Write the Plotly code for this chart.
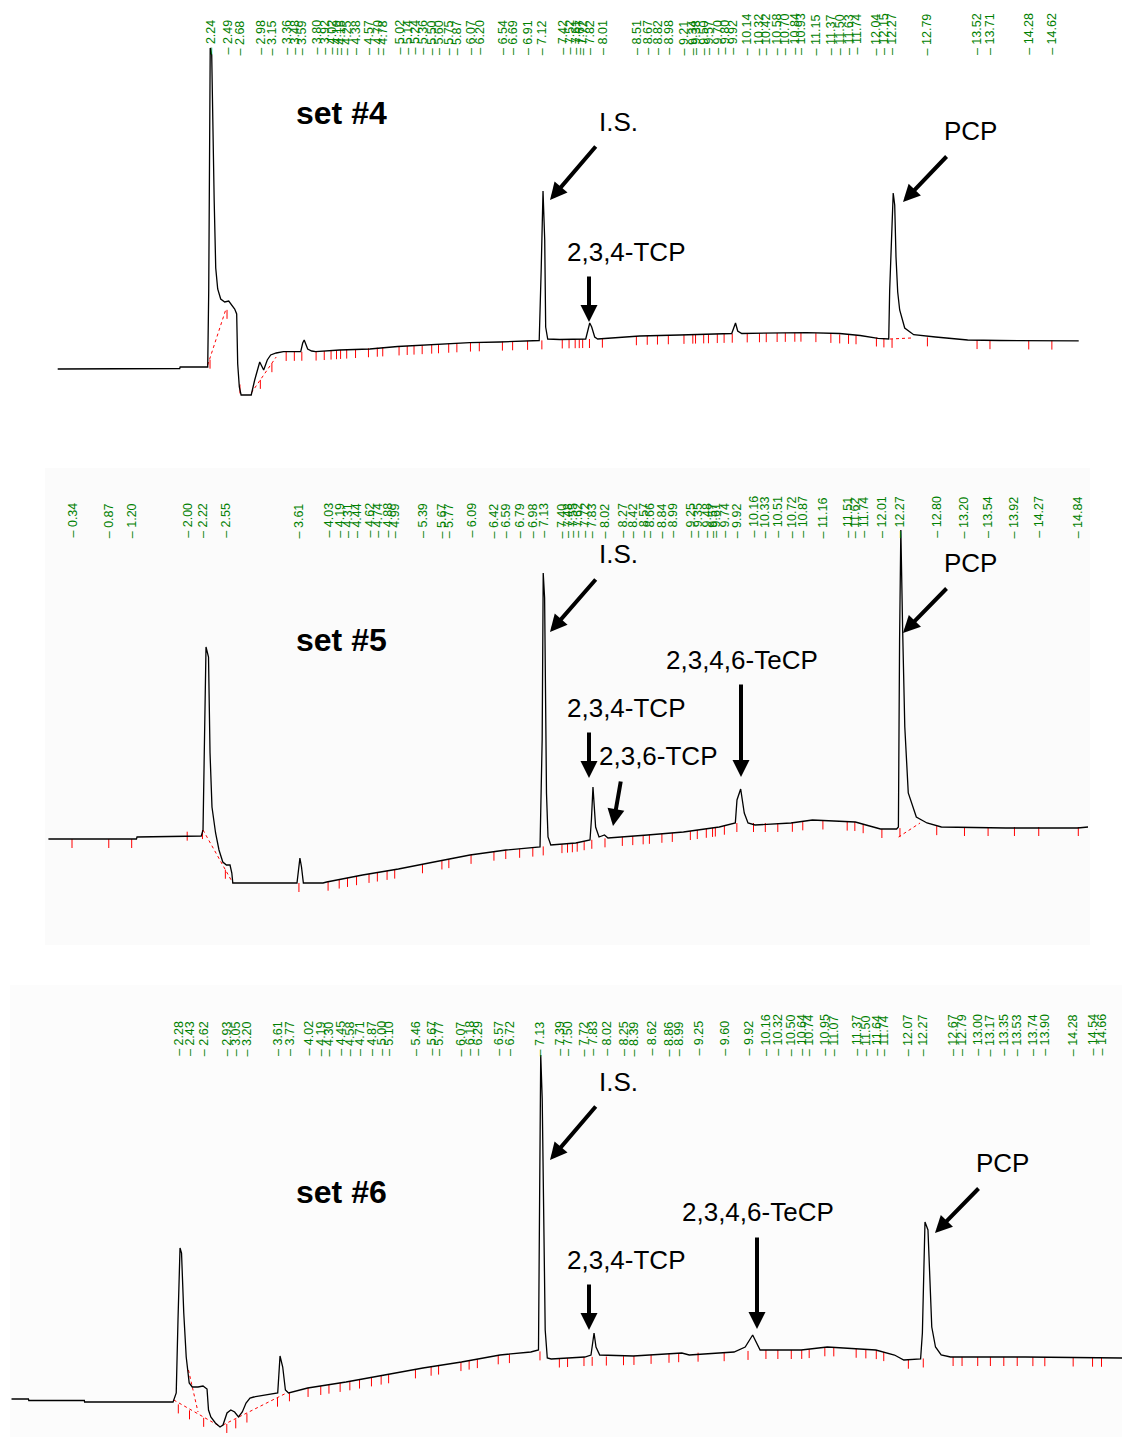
import numpy as np
import plotly.graph_objects as go

# ---------------- DATA (retention time in min, detector response in arbitrary units) -------------
# set #4
p1_trace = [(0.000,0),(0.412,0),(0.419,0.5),(1.794,0.5),(1.801,2),(2.206,2),(2.221,79),(2.228,134),(2.243,321),
            (2.265,314),(2.279,239),(2.301,169),(2.324,101),(2.353,80),(2.397,70),(2.456,67),(2.515,68),(2.559,64),
            (2.603,60),(2.632,55),(2.647,5),(2.671,-18),(2.697,-26),(2.846,-26),(2.897,-11),(2.971,7),(3.029,-1),
            (3.082,9),(3.132,14),(3.213,16),(3.320,17.3),(3.574,17.3),(3.603,26),(3.625,29),(3.647,24),(3.676,20),
            (3.735,18),(3.794,17.4),(4.147,19),(4.588,20),(5.000,22.5),(5.471,24),(6.059,26.4),(6.500,27),(6.956,28),
            (7.081,28.5),(7.110,99),(7.137,178),(7.162,129),(7.176,42),(7.206,30),(7.382,29.5),(7.765,30),(7.794,39),
            (7.824,46),(7.853,42),(7.897,32),(7.941,30),(8.559,33),(9.147,34),(9.735,35),(9.912,35.5),(9.968,46),
            (10.000,38),(10.059,35.5),(10.618,36),(11.010,36.4),(11.500,35.5),(11.801,33.5),(12.065,30.7),(12.221,30),
            (12.235,79),(12.287,176),(12.309,164),(12.328,112),(12.353,77),(12.382,59),(12.456,41),(12.588,34.3),
            (12.909,32),(13.382,29),(13.853,28.5),(15.015,28.2)]
p1_baseline = [(0,0.5),(2.206,2),(2.47,59),(2.60,60),(2.647,5),(2.697,-26),(2.846,-24),(3.213,12),(3.32,17),(3.794,17.4),
               (4.147,19),(5.0,22.5),(6.059,26.4),(7.081,28.5),(7.382,29.5),(7.765,30),(7.941,30),(8.559,33),(9.735,35),
               (10.059,35.5),(11.010,36.4),(11.801,33.5),(12.221,30),(12.588,31),(12.909,32),(13.382,29),(15.015,28.2)]
p1_dash_time = [2.206, 2.47, None, 2.846, 3.213, None, 12.24, 12.55]
p1_dash_signal = [4, 59, None, -24, 12, None, 30, 31]
p1_rt = [2.24,2.49,2.68,2.98,3.15,3.36,3.48,3.59,3.80,3.92,4.02,4.10,4.16,4.25,4.38,4.57,4.70,4.78,5.02,5.14,5.24,5.36,
         5.50,5.60,5.75,5.87,6.07,6.20,6.54,6.69,6.91,7.12,7.42,7.52,7.61,7.67,7.72,7.82,8.01,8.51,8.67,8.82,8.98,9.21,
         9.34,9.38,9.50,9.57,9.70,9.80,9.92,10.14,10.32,10.42,10.58,10.70,10.84,10.93,11.15,11.37,11.50,11.63,11.74,
         12.04,12.15,12.27,12.79,13.52,13.71,14.28,14.62]

# set #5
p2_trace = [(0.000,0),(1.269,0),(1.277,2),(2.203,3),(2.228,9),(2.249,100),(2.271,192),(2.307,182),(2.329,86),(2.357,32),
            (2.409,6),(2.458,-11),(2.513,-23),(2.565,-26),(2.617,-26),(2.643,-34),(2.657,-44),(3.582,-44),(3.604,-30),
            (3.624,-19),(3.647,-28),(3.674,-44),(3.957,-44),(4.010,-43),(4.527,-36),(5.043,-30),(5.556,-23),(6.075,-16),
            (6.594,-11),(7.084,-8),(7.115,100),(7.130,266),(7.150,241),(7.177,46),(7.199,2),(7.239,-6),(7.599,-4),
            (7.804,-1),(7.825,20),(7.847,52),(7.885,12),(7.934,2),(8.013,4),(8.063,1),(8.633,4),(9.150,7),(9.666,12),
            (9.898,16),(9.922,39),(9.975,50),(10.027,26),(10.081,16),(10.182,14),(10.700,16),(11.009,19),(11.628,17),
            (11.781,14),(11.990,10),(12.222,10),(12.248,12),(12.265,200),(12.283,309),(12.310,206),(12.340,112),
            (12.390,46),(12.506,22),(12.660,16),(12.867,12),(13.798,11),(14.830,11),(14.980,12)]
p2_baseline = [(0,0),(1.27,0),(1.28,2),(2.228,9),(2.657,-44),(3.957,-44),(4.01,-43),(4.527,-36),(5.043,-30),(5.556,-23),
               (6.075,-16),(6.594,-11),(7.084,-8),(7.239,-6),(7.599,-4),(7.804,-1),(8.063,1),(8.633,4),(9.15,7),
               (9.666,12),(9.898,16),(10.081,16),(10.7,16),(11.009,19),(11.628,17),(11.781,14),(11.99,10),(12.222,10),
               (12.55,16),(12.867,12),(14.98,12)]
p2_dash_time = [2.228, 2.657, None, 12.25, 12.56]
p2_dash_signal = [9, -44, None, 2, 16]
p2_rt = [0.34,0.87,1.20,2.00,2.22,2.55,3.61,4.03,4.19,4.31,4.44,4.62,4.74,4.88,4.99,5.39,5.67,5.77,6.09,6.42,6.59,6.79,
         6.98,7.13,7.40,7.48,7.55,7.62,7.72,7.83,8.02,8.27,8.42,8.57,8.66,8.84,8.99,9.25,9.35,9.48,9.57,9.61,9.74,9.92,
         10.16,10.33,10.51,10.72,10.87,11.16,11.51,11.62,11.74,12.01,12.27,12.80,13.20,13.54,13.92,14.27,14.84]

# set #6
p3_trace = [(0.043,0),(0.270,0),(0.275,-1.5),(1.020,-1.5),(1.023,-3),(2.209,-3),(2.219,-1),(2.252,6),(2.276,80),
            (2.303,151),(2.323,146),(2.353,86),(2.386,42),(2.406,29),(2.426,16),(2.467,12),(2.544,12),(2.611,13),
            (2.665,10),(2.685,-11),(2.716,-18),(2.777,-24),(2.839,-28),(2.879,-26),(2.933,-14),(2.984,-11),(3.035,-13),
            (3.087,-18),(3.138,-13),(3.188,-4),(3.241,1),(3.292,2),(3.499,5),(3.613,6),(3.644,43),(3.680,32),(3.716,9),
            (3.758,6),(4.015,11),(4.529,17),(5.046,24),(5.561,31),(6.077,37),(6.594,44),(7.007,47),(7.110,49),
            (7.125,200),(7.140,344),(7.160,300),(7.175,199),(7.200,69),(7.228,41),(7.280,40),(7.731,42),(7.814,44),
            (7.855,66),(7.881,52),(7.931,44),(8.381,43),(9.032,46),(9.132,44),(9.732,47),(9.882,52),(9.982,64),
            (10.032,56),(10.082,49),(10.633,49),(10.983,52),(11.634,49),(11.884,44),(12.009,39),(12.234,40),
            (12.258,66),(12.293,177),(12.333,169),(12.358,116),(12.384,72),(12.434,52),(12.510,44),(12.635,42),
            (13.636,42),(14.937,41)]
p3_baseline = [(0.043,0),(0.275,-1.5),(1.023,-3),(2.219,-3),(2.852,-28),(3.731,6),(4.015,11),(4.529,17),(5.046,24),
               (5.561,31),(6.077,37),(6.594,44),(7.007,47),(7.110,49),(7.228,41),(7.280,40),(7.731,42),(8.381,43),
               (9.032,46),(9.732,47),(10.082,49),(10.633,49),(10.983,52),(11.634,49),(11.884,44),(12.009,39),
               (12.234,40),(12.510,44),(12.635,42),(13.636,42),(14.937,41)]
p3_dash_time = [2.219, 2.852, None, 2.416, 2.544, None, 2.879, 3.731]
p3_dash_signal = [-1, -28, None, 29, -13, None, -26, 6]
p3_rt = [2.28,2.43,2.62,2.93,3.05,3.20,3.61,3.77,4.02,4.19,4.30,4.45,4.58,4.71,4.87,5.00,5.10,5.46,5.67,5.77,6.07,6.18,
         6.29,6.57,6.72,7.13,7.39,7.50,7.72,7.83,8.02,8.25,8.39,8.62,8.86,8.99,9.25,9.60,9.92,10.16,10.32,10.50,10.64,
         10.74,10.95,11.07,11.37,11.50,11.64,11.74,12.07,12.27,12.67,12.79,13.00,13.17,13.35,13.53,13.74,13.90,14.28,
         14.54,14.66]

set_names = ["set #4", "set #5", "set #6"]

# ---------------- LAYOUT GEOMETRY (pixels of the 1122 x 1437 page) ----------------
W, H = 1122, 1437
panels = [
    dict(trace=p1_trace, base=p1_baseline, dt=p1_dash_time, ds=p1_dash_signal, rt=p1_rt,
         x0=57.7, ppm=68.0, ref=369, top=0, bot=460, lab=56),
    dict(trace=p2_trace, base=p2_baseline, dt=p2_dash_time, ds=p2_dash_signal, rt=p2_rt,
         x0=48.4, ppm=69.4, ref=839, top=460, bot=975, lab=539),
    dict(trace=p3_trace, base=p3_baseline, dt=p3_dash_time, ds=p3_dash_signal, rt=p3_rt,
         x0=8.3, ppm=74.57, ref=1399, top=975, bot=1437, lab=1057),
]

FONT = "Liberation Sans, Arial, sans-serif"
fig = go.Figure()
layout_axes = {}
annotations = []
TICK_LEN = 9

for i, p in enumerate(panels, start=1):
    xa = "x" if i == 1 else f"x{i}"
    ya = "y" if i == 1 else f"y{i}"
    xkey = "xaxis" if i == 1 else f"xaxis{i}"
    ykey = "yaxis" if i == 1 else f"yaxis{i}"
    t = [a for a, b in p["trace"]]
    s = [b for a, b in p["trace"]]
    bt = [a for a, b in p["base"]]
    bs = [b for a, b in p["base"]]

    # red baseline tick marks at each retention time
    tx, ty = [], []
    for r in p["rt"]:
        b = float(np.interp(r, bt, bs))
        tx += [r, r, None]
        ty += [b, b - TICK_LEN, None]
    fig.add_trace(go.Scatter(x=tx, y=ty, mode="lines", line=dict(color="#ff0000", width=1),
                             xaxis=xa, yaxis=ya, hoverinfo="skip", showlegend=False))
    fig.add_trace(go.Scatter(x=p["dt"], y=p["ds"], mode="lines",
                             line=dict(color="#ff0000", width=1, dash="dot"),
                             xaxis=xa, yaxis=ya, hoverinfo="skip", showlegend=False))
    fig.add_trace(go.Scatter(x=t, y=s, mode="lines", line=dict(color="black", width=1.3),
                             xaxis=xa, yaxis=ya, name=set_names[i - 1], showlegend=False))

    xr = [-p["x0"] / p["ppm"], (W - p["x0"]) / p["ppm"]]
    yr = [p["ref"] - p["bot"], p["ref"] - p["top"]]
    layout_axes[xkey] = dict(domain=[0, 1], range=xr, visible=False, anchor=ya)
    layout_axes[ykey] = dict(domain=[1 - p["bot"] / H, 1 - p["top"] / H], range=yr, visible=False, anchor=xa)

    for r in p["rt"]:
        annotations.append(dict(x=r, xref=xa, y=1 - p["lab"] / H, yref="paper", text="– " + f"{r:.2f}",
                                textangle=-90, showarrow=False, xanchor="center", yanchor="bottom",
                                borderpad=0, font=dict(size=12.5, color="#008000", family=FONT)))

# ---------------- TEXT LABELS AND ARROWS ----------------
def label(px, py, text, size=26, bold=False):
    annotations.append(dict(x=px / W, y=1 - py / H, xref="paper", yref="paper",
                            text=f"<b>{text}</b>" if bold else text, showarrow=False,
                            xanchor="center", yanchor="middle",
                            font=dict(size=size, color="black", family=FONT)))

def arrow(tail, tip):
    annotations.append(dict(x=tip[0] / W, y=1 - tip[1] / H, xref="paper", yref="paper",
                            ax=tail[0] - tip[0], ay=tail[1] - tip[1], axref="pixel", ayref="pixel",
                            text="", showarrow=True, arrowhead=2, arrowsize=0.85, arrowwidth=4,
                            arrowcolor="black", standoff=0))

# set #4
label(341, 113, set_names[0], size=32, bold=True)
label(619, 122, "I.S.")
arrow((597, 145), (550, 200))
label(970, 131, "PCP")
arrow((948, 155), (903, 202))
label(626, 252, "2,3,4-TCP")
arrow((589, 275), (589, 322))
# set #5
label(341, 640, set_names[1], size=32, bold=True)
label(619, 554, "I.S.")
arrow((597, 578), (550, 632))
label(970, 563, "PCP")
arrow((948, 587), (903, 633))
label(742, 660, "2,3,4,6-TeCP")
arrow((741, 683), (741, 777))
label(626, 708, "2,3,4-TCP")
arrow((589, 731), (589, 778))
label(658, 756, "2,3,6-TCP")
arrow((621, 780), (613, 826))
# set #6
label(341, 1192, set_names[2], size=32, bold=True)
label(619, 1082, "I.S.")
arrow((597, 1105), (550, 1160))
label(1002, 1163, "PCP")
arrow((980, 1187), (935, 1233))
label(758, 1212, "2,3,4,6-TeCP")
arrow((757, 1236), (757, 1329))
label(626, 1260, "2,3,4-TCP")
arrow((589, 1283), (589, 1330))

shapes = [
    dict(type="rect", xref="paper", yref="paper", x0=45 / W, x1=1090 / W, y0=1 - 945 / H, y1=1 - 468 / H,
         fillcolor="#fbfbfb", line=dict(width=0), layer="below"),
    dict(type="rect", xref="paper", yref="paper", x0=10 / W, x1=1, y0=0, y1=1 - 985 / H,
         fillcolor="#fcfcfc", line=dict(width=0), layer="below"),
]

fig.update_layout(width=W, height=H, margin=dict(l=0, r=0, t=0, b=0),
                  paper_bgcolor="white", plot_bgcolor="rgba(0,0,0,0)",
                  annotations=annotations, shapes=shapes, showlegend=False,
                  font=dict(family=FONT), **layout_axes)

fig.write_html("out.html")
